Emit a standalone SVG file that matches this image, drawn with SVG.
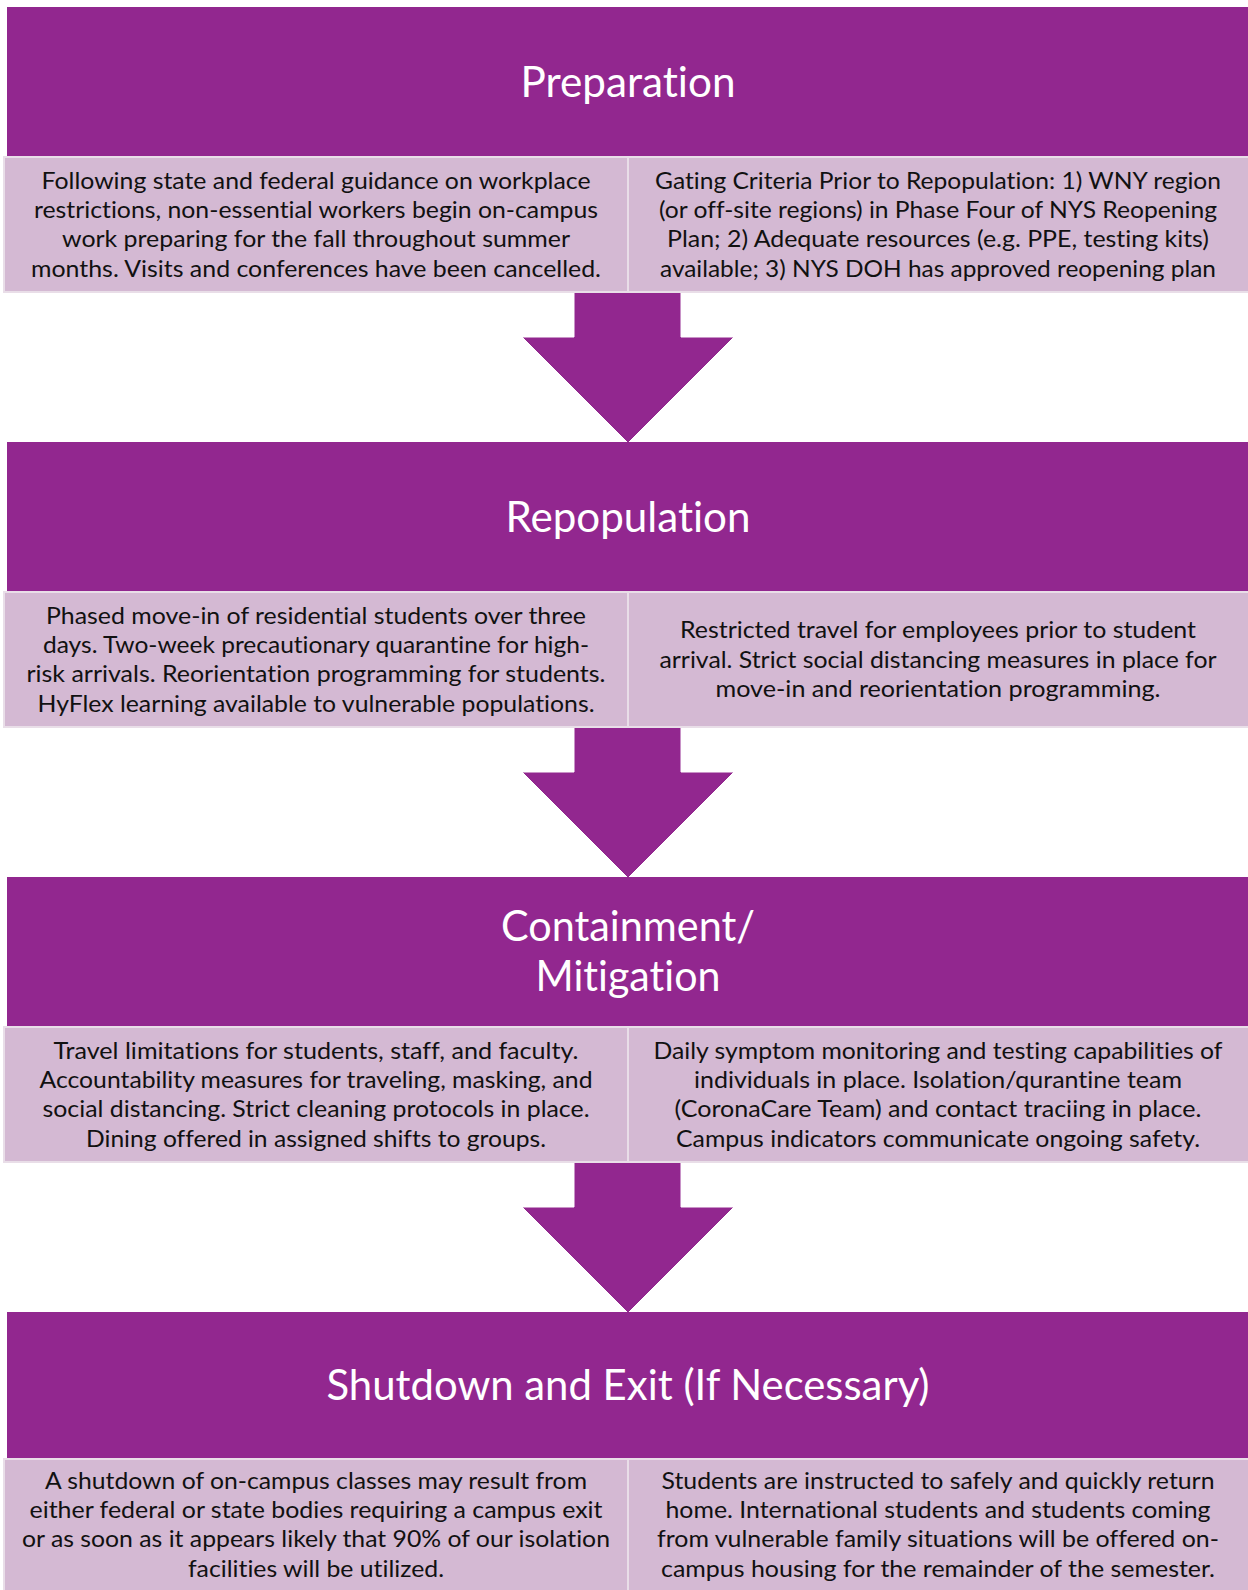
<svg xmlns="http://www.w3.org/2000/svg" width="1248" height="1590" viewBox="0 0 1248 1590">
<style>
.hdr{fill:#92278F}
.cell{fill:#D4B9D3;stroke:#E9DEE8;stroke-width:2}
.arrow{fill:#92278F;stroke:#FFFFFF;stroke-width:1}
.ht{font-family:Lato,"Open Sans",sans-serif;font-size:43px;fill:#FFFFFF;text-anchor:middle;font-variant-ligatures:none}
.bt{font-family:Lato,"Open Sans",sans-serif;font-size:23px;fill:#111111;text-anchor:middle;font-variant-ligatures:none}
</style>
<rect width="1248" height="1590" fill="#FFFFFF"/>
<g id="connectors">
<path class="arrow" d="M574,292 H681 V337 H734 L628,443 L522,337 H574 Z"/>
<path class="arrow" d="M574,727 H681 V772 H734 L628,878 L522,772 H574 Z"/>
<path class="arrow" d="M574,1162 H681 V1207 H734 L628,1313 L522,1207 H574 Z"/>
</g>
<g id="preparation">
<rect class="hdr" x="7" y="7" width="1245" height="150"/>
<text class="ht" x="628" y="97" textLength="215" lengthAdjust="spacingAndGlyphs">Preparation</text>
<rect class="cell" x="4" y="157" width="624" height="135"/>
<rect class="cell" x="628" y="157" width="624" height="135"/>
<text class="bt" x="316" y="188.5" textLength="549" lengthAdjust="spacingAndGlyphs">Following state and federal guidance on workplace</text>
<text class="bt" x="316" y="218" textLength="564" lengthAdjust="spacingAndGlyphs">restrictions, non-essential workers begin on-campus</text>
<text class="bt" x="316" y="247" textLength="508" lengthAdjust="spacingAndGlyphs">work preparing for the fall throughout summer</text>
<text class="bt" x="316" y="276.5" textLength="570" lengthAdjust="spacingAndGlyphs">months. Visits and conferences have been cancelled.</text>
<text class="bt" x="938" y="188.5" textLength="566" lengthAdjust="spacingAndGlyphs">Gating Criteria Prior to Repopulation: 1) WNY region</text>
<text class="bt" x="938" y="218" textLength="558" lengthAdjust="spacingAndGlyphs">(or off-site regions) in Phase Four of NYS Reopening</text>
<text class="bt" x="938" y="247" textLength="542" lengthAdjust="spacingAndGlyphs">Plan; 2) Adequate resources (e.g. PPE, testing kits)</text>
<text class="bt" x="938" y="276.5" textLength="556" lengthAdjust="spacingAndGlyphs">available; 3) NYS DOH has approved reopening plan</text>
</g>
<g id="repopulation">
<rect class="hdr" x="7" y="442" width="1245" height="150"/>
<text class="ht" x="628" y="532" textLength="245" lengthAdjust="spacingAndGlyphs">Repopulation</text>
<rect class="cell" x="4" y="592" width="624" height="135"/>
<rect class="cell" x="628" y="592" width="624" height="135"/>
<text class="bt" x="316" y="623.5" textLength="540" lengthAdjust="spacingAndGlyphs">Phased move-in of residential students over three</text>
<text class="bt" x="316" y="653" textLength="546" lengthAdjust="spacingAndGlyphs">days. Two-week precautionary quarantine for high-</text>
<text class="bt" x="316" y="682" textLength="579" lengthAdjust="spacingAndGlyphs">risk arrivals. Reorientation programming for students.</text>
<text class="bt" x="316" y="711.5" textLength="557" lengthAdjust="spacingAndGlyphs">HyFlex learning available to vulnerable populations.</text>
<text class="bt" x="938" y="638" textLength="516" lengthAdjust="spacingAndGlyphs">Restricted travel for employees prior to student</text>
<text class="bt" x="938" y="667.5" textLength="557" lengthAdjust="spacingAndGlyphs">arrival. Strict social distancing measures in place for</text>
<text class="bt" x="938" y="697" textLength="445" lengthAdjust="spacingAndGlyphs">move-in and reorientation programming.</text>
</g>
<g id="containment">
<rect class="hdr" x="7" y="877" width="1245" height="150"/>
<text class="ht" x="628" y="941" textLength="254" lengthAdjust="spacingAndGlyphs">Containment/</text>
<text class="ht" x="628" y="991" textLength="185" lengthAdjust="spacingAndGlyphs">Mitigation</text>
<rect class="cell" x="4" y="1027" width="624" height="135"/>
<rect class="cell" x="628" y="1027" width="624" height="135"/>
<text class="bt" x="316" y="1058.5" textLength="525" lengthAdjust="spacingAndGlyphs">Travel limitations for students, staff, and faculty.</text>
<text class="bt" x="316" y="1088" textLength="553" lengthAdjust="spacingAndGlyphs">Accountability measures for traveling, masking, and</text>
<text class="bt" x="316" y="1117" textLength="547" lengthAdjust="spacingAndGlyphs">social distancing. Strict cleaning protocols in place.</text>
<text class="bt" x="316" y="1146.5" textLength="460" lengthAdjust="spacingAndGlyphs">Dining offered in assigned shifts to groups.</text>
<text class="bt" x="938" y="1058.5" textLength="569" lengthAdjust="spacingAndGlyphs">Daily symptom monitoring and testing capabilities of</text>
<text class="bt" x="938" y="1088" textLength="488" lengthAdjust="spacingAndGlyphs">individuals in place. Isolation/qurantine team</text>
<text class="bt" x="938" y="1117" textLength="527" lengthAdjust="spacingAndGlyphs">(CoronaCare Team) and contact traciing in place.</text>
<text class="bt" x="938" y="1146.5" textLength="524" lengthAdjust="spacingAndGlyphs">Campus indicators communicate ongoing safety.</text>
</g>
<g id="shutdown">
<rect class="hdr" x="7" y="1312" width="1245" height="147"/>
<text class="ht" x="628" y="1400" textLength="603" lengthAdjust="spacingAndGlyphs">Shutdown and Exit (If Necessary)</text>
<rect class="cell" x="4" y="1459" width="624" height="135"/>
<rect class="cell" x="628" y="1459" width="624" height="135"/>
<text class="bt" x="316" y="1488.5" textLength="542" lengthAdjust="spacingAndGlyphs">A shutdown of on-campus classes may result from</text>
<text class="bt" x="316" y="1518" textLength="573" lengthAdjust="spacingAndGlyphs">either federal or state bodies requiring a campus exit</text>
<text class="bt" x="316" y="1547" textLength="588" lengthAdjust="spacingAndGlyphs">or as soon as it appears likely that 90% of our isolation</text>
<text class="bt" x="316" y="1576.5" textLength="256" lengthAdjust="spacingAndGlyphs">facilities will be utilized.</text>
<text class="bt" x="938" y="1488.5" textLength="553" lengthAdjust="spacingAndGlyphs">Students are instructed to safely and quickly return</text>
<text class="bt" x="938" y="1518" textLength="545" lengthAdjust="spacingAndGlyphs">home. International students and students coming</text>
<text class="bt" x="938" y="1547" textLength="562" lengthAdjust="spacingAndGlyphs">from vulnerable family situations will be offered on-</text>
<text class="bt" x="938" y="1576.5" textLength="554" lengthAdjust="spacingAndGlyphs">campus housing for the remainder of the semester.</text>
</g>
</svg>
